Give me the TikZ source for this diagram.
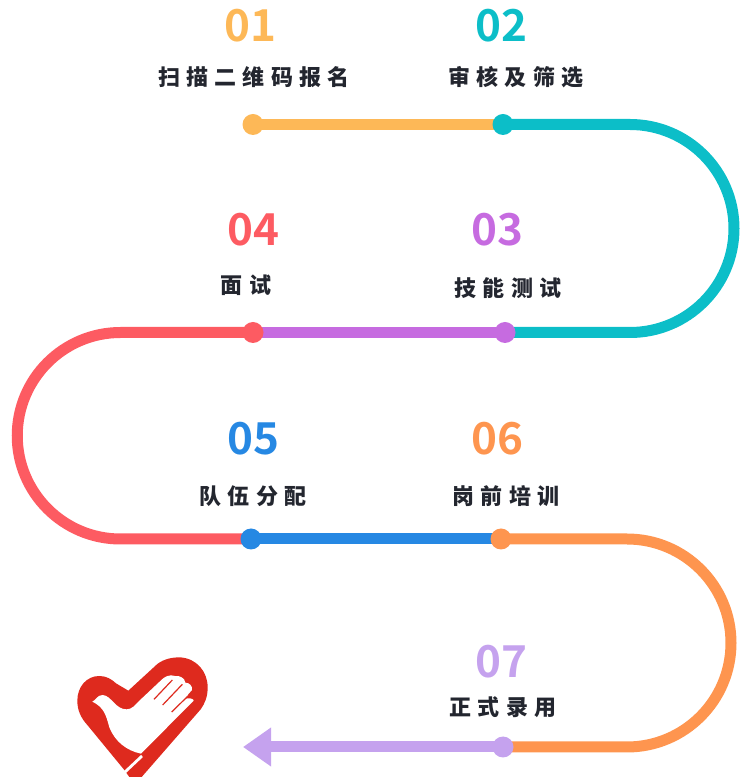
\documentclass[tikz,border=0pt]{standalone}
\usepackage{fontspec}
\usepackage{xcolor}
\setmainfont{Noto Sans CJK SC}[BoldFont={* Bold}]
\newfontfamily\numfont{Noto Sans CJK SC Bold}
\newfontfamily\labfont[LetterSpace=28]{Noto Sans CJK SC Black}
\definecolor{cyellow}{HTML}{FDB857}
\definecolor{cteal}{HTML}{0CBEC8}
\definecolor{cpurple}{HTML}{C66BE0}
\definecolor{cred}{HTML}{FD5B62}
\definecolor{cblue}{HTML}{2688E3}
\definecolor{corange}{HTML}{FE954F}
\definecolor{clilac}{HTML}{C5A2EE}
\definecolor{cheart}{HTML}{DE2A1E}
\definecolor{cink}{HTML}{23262F}
\usetikzlibrary{arrows.meta,backgrounds}
\tikzset{
  num/.style={inner sep=0pt, font=\numfont\fontsize{44}{44}\selectfont},
  lab/.style={inner sep=0pt, text=cink, font=\labfont\fontsize{22}{22}\selectfont},
  dot/.style={circle, inner sep=0pt, minimum size=21pt},
  lnk/.style={line width=11pt},
}
\begin{document}
\begin{tikzpicture}[x=1pt,y=1pt]
  \useasboundingbox (0,0) rectangle (749,777);
  % dots
  \node[dot, fill=cyellow] (d1) at (253,652.5) {};
  \node[dot, fill=cteal] (d2) at (503,652.5) {};
  \node[dot, fill=cpurple] (d3) at (505,444.5) {};
  \node[dot, fill=cred] (d4) at (253,444.5) {};
  \node[dot, fill=cblue] (d5) at (251,238) {};
  \node[dot, fill=corange] (d6) at (501,238) {};
  \node[dot, fill=clilac] (d7) at (503,30) {};
  \coordinate (tip) at (243,30);
  % numbers
  \node[num, text=cyellow] (n1) at (250.5,751) {01};
  \node[num, text=cteal] (n2) at (501,751) {02};
  \node[num, text=cpurple] (n3) at (497.5,547.5) {03};
  \node[num, text=cred] (n4) at (253.5,547.5) {04};
  \node[num, text=cblue] (n5) at (253.5,338) {05};
  \node[num, text=corange] (n6) at (497.5,338) {06};
  \node[num, text=clilac] (n7) at (501.5,115) {07};
  % labels
  \node[lab] (t1) at (254,700) {扫描二维码报名};
  \node[lab] (t2) at (516,700) {审核及筛选};
  \node[lab] (t3) at (508,489) {技能测试};
  \node[lab] (t4) at (246,492) {面试};
  \node[lab] (t5) at (253,281) {队伍分配};
  \node[lab] (t6) at (506,281) {岗前培训};
  \node[lab] (t7) at (503,70) {正式录用};
  % track
  \begin{scope}[on background layer]
    \draw[lnk, cyellow] (d1.center) -- (d2.center);
    \draw[lnk, cteal] (d2.center) -- (630,652.5) arc[start angle=90, end angle=-90, radius=104] -- (d3.center);
    \draw[lnk, cpurple] (d3.center) -- (d4.center);
    \draw[lnk, cred] (d4.center) -- (120.5,444.5) arc[start angle=90, end angle=270, radius=103.25] -- (d5.center);
    \draw[lnk, cblue] (d5.center) -- (d6.center);
    \draw[lnk, corange] (d6.center) -- (627,238) arc[start angle=90, end angle=-90, radius=104] -- (d7.center);
    \draw[lnk, clilac, -{Triangle[length=28pt,width=37pt]}] (d7.center) -- (tip);
  \end{scope}
  % heart
  \begin{scope}[shift={(70,127)},xscale=1/3,yscale=-1/3]
    \fill[cheart] (175,122) -- (262,42) .. controls (282,27) and (305,22) .. (330,22)
      .. controls (380,25) and (413,65) .. (413,112) .. controls (413,140) and (405,160) .. (392,178)
      -- (215,381) -- (178,381) -- (163,360) -- (52,225)
      .. controls (32,203) and (22,180) .. (22,152) .. controls (22,110) and (50,78) .. (88,78)
      .. controls (110,78) and (125,88) .. (138,100) -- cycle;
    \fill[white] (67,155) .. controls (78,150) and (82,135) .. (98,135)
      .. controls (125,137) and (135,178) .. (170,178) .. controls (185,178) and (195,166) .. (205,155)
      -- (272,92) .. controls (282,80) and (300,72) .. (315,78)
      .. controls (330,76) and (345,85) .. (346,98) .. controls (358,98) and (368,108) .. (366,120)
      .. controls (358,128) and (352,136) .. (346,146) .. controls (358,143) and (371,146) .. (371,152)
      -- (213,311) .. controls (170,302) and (135,275) .. (118,232)
      .. controls (108,195) and (102,172) .. (67,155) -- cycle;
    \draw[white, line width=2.8pt] (216,318) -- (165,366);
    \draw[cheart, line width=1.2pt] (252,148) -- (307,90);
    \draw[cheart, line width=1.2pt] (278,165) -- (337,103);
    \draw[cheart, line width=1.2pt] (305,186) -- (352,140);
  \end{scope}
\end{tikzpicture}
\end{document}
